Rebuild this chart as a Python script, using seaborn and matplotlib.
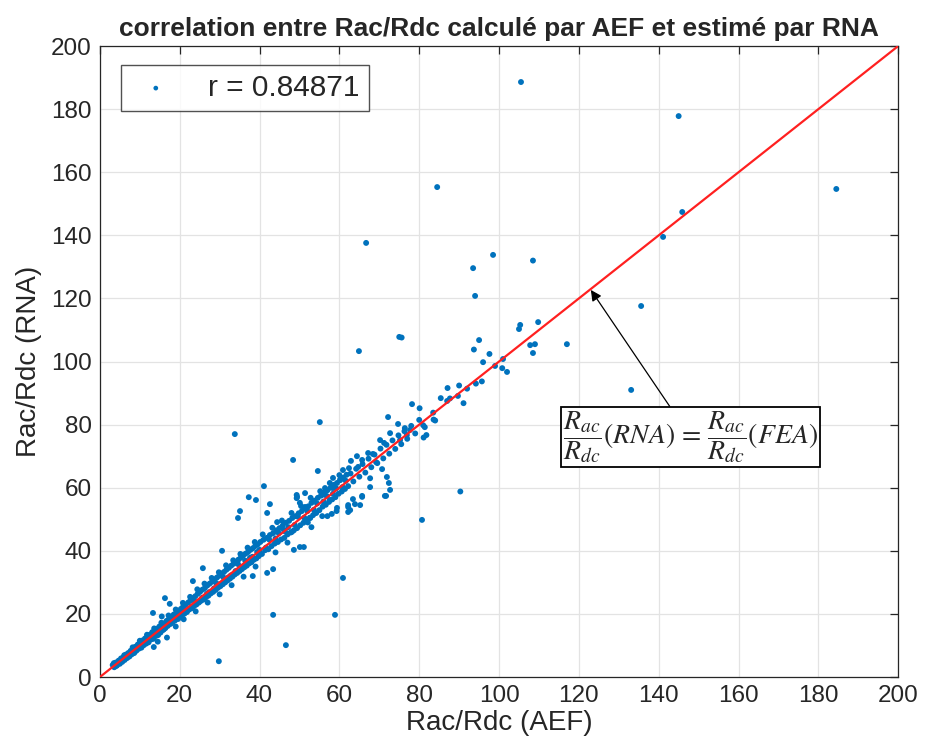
import numpy as np
import pandas as pd
import matplotlib
matplotlib.use("Agg")
import matplotlib.pyplot as plt
import seaborn as sns

# values: (Rac/Rdc AEF, Rac/Rdc RNA)
band_low = [
    (3.2, 3.8), (3.6, 3.1), (4.0, 4.6), (4.3, 3.7), (4.7, 5.2), (5.0, 4.2), (5.3, 5.9), (5.6, 4.8),
    (5.9, 6.3), (6.2, 5.4), (6.5, 7.1), (6.8, 6.0), (7.1, 7.6), (7.4, 6.5), (7.7, 8.3), (8.0, 7.2),
    (8.3, 8.9), (8.6, 7.6), (8.9, 9.6), (9.2, 8.4), (9.5, 10.3), (9.8, 9.0), (10.1, 10.8), (10.4, 9.3),
    (10.7, 11.6), (11.0, 10.1), (11.3, 12.2), (11.6, 10.6), (11.9, 12.9), (12.2, 11.0), (12.5, 13.4),
    (12.8, 11.9), (13.1, 14.2), (13.4, 12.1), (13.7, 14.6), (14.0, 13.0), (14.3, 15.3), (14.6, 13.3),
    (14.9, 16.0), (15.2, 14.1),
]
band_mid = [
    (15.5, 16.3), (15.8, 14.9), (16.1, 17.0), (16.4, 15.5), (16.7, 17.8), (17.0, 16.2), (17.3, 18.4),
    (17.6, 16.8), (17.9, 19.1), (18.2, 17.4), (18.5, 19.8), (18.8, 17.9), (19.1, 20.3), (19.4, 18.5),
    (19.7, 21.0), (20.0, 19.2), (20.3, 21.6), (20.6, 19.6), (20.9, 22.4), (21.2, 20.1), (21.5, 22.9),
    (21.8, 20.6), (22.1, 23.6), (22.4, 21.4), (22.7, 24.3), (23.0, 21.8), (23.3, 25.0), (23.6, 22.5),
    (23.9, 25.6), (24.2, 23.0), (24.5, 26.4), (24.8, 23.6), (25.1, 27.0), (25.4, 24.2), (25.7, 27.7),
    (26.0, 24.6), (26.3, 28.2), (26.6, 25.3), (26.9, 29.0), (27.2, 25.8), (27.5, 29.6), (27.8, 26.5),
    (28.1, 30.2), (28.4, 27.0), (28.7, 30.9), (29.0, 27.6), (29.3, 31.5), (29.6, 28.3), (29.9, 32.1),
    (30.2, 28.8), (30.5, 32.8), (30.8, 29.4), (31.1, 33.3), (31.4, 30.0), (31.7, 34.0), (32.0, 30.6),
    (32.3, 34.6), (32.6, 31.2), (32.9, 35.3), (33.2, 31.8), (33.5, 35.9), (33.8, 32.5), (34.1, 36.5),
    (34.4, 33.0), (34.7, 37.2), (35.0, 33.6), (35.3, 37.8), (35.6, 34.2), (35.9, 38.5), (36.2, 34.8),
    (36.5, 39.1), (36.8, 35.3), (37.1, 39.6), (37.4, 36.0), (37.7, 40.3), (38.0, 36.4), (38.3, 40.8),
    (38.6, 37.2), (38.9, 41.5), (39.2, 37.6), (39.5, 42.0), (39.8, 38.3),
]
band_extra = [
    (3.5, 4.4), (4.1, 3.5), (4.8, 4.9), (5.5, 5.1), (6.1, 6.9), (6.9, 6.3), (7.6, 7.0), (8.2, 9.4),
    (8.8, 8.1), (9.4, 9.2), (10.0, 11.5), (10.6, 10.0), (11.2, 11.0), (11.8, 13.4), (12.4, 12.0),
    (13.0, 12.6), (13.6, 15.4), (14.2, 13.6), (14.8, 14.2), (15.4, 17.2), (16.0, 15.1), (16.6, 16.4),
    (17.2, 19.5), (17.8, 17.0), (18.4, 18.2), (19.0, 21.4), (19.6, 18.4), (20.2, 20.6), (20.8, 23.5),
    (21.4, 20.9), (22.0, 21.2), (22.6, 25.4), (23.2, 22.4), (23.8, 23.9), (24.4, 27.8), (25.0, 24.0),
    (25.6, 25.1), (26.2, 29.6), (26.8, 26.4), (27.4, 26.9), (28.0, 31.4), (28.6, 28.1), (29.2, 29.7),
    (29.8, 33.2), (30.4, 29.6), (31.0, 31.5), (31.6, 35.4), (32.2, 31.6), (32.8, 32.2), (33.4, 37.0),
    (34.0, 33.6), (34.6, 35.8), (35.2, 39.0), (35.8, 35.0), (36.4, 36.9), (37.0, 41.0), (37.6, 37.8),
    (38.2, 38.1), (38.8, 42.8), (39.4, 39.6), (40.0, 40.3), (40.8, 45.2), (41.6, 41.0), (42.4, 43.6),
    (43.2, 47.3), (44.0, 43.9), (44.8, 45.6), (45.6, 49.6), (46.4, 46.1), (47.2, 47.5), (48.0, 52.0),
    (48.8, 48.2), (49.6, 50.8), (50.4, 54.2), (51.2, 50.5), (52.0, 52.6), (52.8, 56.8), (53.6, 53.0),
    (54.4, 55.0), (55.2, 58.9), (56.0, 55.6), (56.8, 57.4), (57.6, 61.5), (58.4, 58.1), (59.2, 59.8),
    (60.0, 64.0), (60.8, 60.2), (61.6, 62.2),
    (21.0, 18.3), (24.0, 20.8), (27.0, 23.6), (30.0, 26.2), (33.0, 29.1), (36.0, 31.8), (39.0, 35.0),
    (44.0, 39.5), (47.0, 42.6), (53.0, 47.5), (57.0, 51.0),
]
band_high = [
    (40.2, 42.8), (40.6, 39.0), (41.0, 43.5), (41.4, 40.2), (41.8, 44.1), (42.2, 40.5), (42.6, 45.0),
    (43.0, 41.5), (43.4, 45.6), (43.8, 42.3), (44.2, 46.5), (44.6, 42.8), (45.0, 47.2), (45.4, 43.6),
    (45.8, 48.0), (46.2, 44.1), (46.6, 48.9), (47.0, 45.2), (47.4, 49.5), (47.8, 45.8), (48.2, 50.4),
    (48.6, 46.5), (49.0, 51.0), (49.4, 47.2), (49.8, 51.9), (50.2, 48.1), (50.6, 52.6), (51.0, 48.9),
    (51.4, 53.5), (51.8, 49.8), (52.2, 54.1), (52.6, 50.5), (53.0, 55.2), (53.4, 51.3), (53.8, 55.9),
    (54.2, 52.0), (54.6, 56.8), (55.0, 52.9), (55.4, 57.5), (55.8, 54.0), (56.2, 58.4), (56.6, 54.6),
    (57.0, 59.2), (57.4, 55.5), (57.8, 60.0), (58.2, 56.3), (58.6, 60.9), (59.0, 57.0), (59.4, 61.5),
    (59.8, 58.1), (60.2, 62.6), (60.6, 58.8), (61.0, 63.2), (61.4, 59.6), (61.8, 64.1), (62.2, 60.5),
    (62.8, 64.5), (63.5, 62.0), (64.2, 66.0), (65.0, 63.5), (65.8, 67.5), (66.5, 64.8), (67.3, 69.2),
    (68.0, 66.5), (68.8, 70.5), (69.5, 67.8), (70.3, 72.4), (71.0, 69.3), (71.8, 73.6), (72.5, 70.8),
    (73.3, 75.0), (74.0, 72.3), (74.8, 76.6), (75.5, 73.8), (76.3, 77.9), (77.0, 75.5), (78.0, 79.6),
    (79.0, 77.2), (80.0, 81.5), (81.0, 79.8), (87.0, 87.5), (92.0, 91.4), (99.0, 98.6),
]
spread = [
    (13.3, 20.3), (16.3, 25.0), (15.5, 19.2), (17.5, 23.2), (13.5, 9.5), (16.8, 12.5), (19.0, 16.0),
    (14.5, 11.2), (23.3, 30.4), (25.8, 34.5), (30.6, 40.0), (38.3, 32.0), (41.9, 33.0), (43.4, 34.2),
    (35.1, 52.6), (34.6, 50.4), (37.3, 57.0), (39.1, 56.1), (41.1, 60.5), (42.6, 54.8), (41.9, 52.0),
    (48.6, 40.3), (50.1, 41.2), (51.1, 41.2), (52.1, 49.0), (44.4, 49.1), (46.1, 46.6), (48.1, 46.0),
    (49.3, 57.7), (51.4, 58.3), (48.4, 68.8), (54.6, 65.3), (33.8, 77.0), (55.1, 80.8), (64.9, 103.3),
    (75.0, 107.8), (67.7, 60.2), (71.4, 57.4), (72.7, 59.3), (72.4, 61.5), (70.7, 65.9), (65.7, 57.4),
    (63.9, 54.8), (62.2, 53.9), (62.2, 52.3), (59.3, 52.6), (58.1, 51.7), (67.7, 63.0), (55.7, 51.0),
    (52.7, 50.4), (49.3, 56.7), (72.2, 82.4), (74.7, 80.2), (76.4, 78.9), (72.7, 77.3), (70.2, 75.1),
    (71.2, 74.2), (67.2, 71.0), (68.4, 70.7), (64.4, 70.0), (62.9, 68.5), (65.7, 68.8), (64.7, 66.6),
    (62.4, 66.2), (60.9, 65.6), (58.4, 63.1), (60.2, 62.4), (69.2, 68.1), (75.2, 75.1), (76.9, 76.7),
    (77.7, 78.3), (71.9, 63.4), (71.7, 57.4), (65.7, 57.1), (63.4, 56.4), (62.2, 54.5), (58.4, 59.9),
    (56.4, 59.9), (55.6, 57.7), (57.6, 56.1), (59.4, 53.6), (62.7, 52.9), (65.2, 54.5), (53.9, 52.0),
    (51.4, 53.9), (50.1, 55.2), (49.4, 57.1),
]
outliers = [
    (105.5, 188.6), (145.0, 177.8), (184.5, 154.7), (145.9, 147.4), (141.1, 139.5), (135.6, 117.6),
    (133.1, 91.0), (117.0, 105.5), (84.5, 155.3), (66.7, 137.6), (93.5, 129.6), (98.5, 133.8),
    (108.5, 132.0), (94.0, 120.8), (109.8, 112.5), (105.3, 111.6), (105.0, 110.3), (95.0, 106.8),
    (93.7, 103.8), (97.6, 102.4), (96.0, 99.8), (101.0, 100.8), (100.8, 97.9), (102.0, 96.7),
    (107.8, 105.2), (109.0, 105.5), (108.5, 102.7), (94.2, 93.0), (95.7, 93.7), (90.0, 92.4),
    (87.1, 91.6), (85.4, 88.4), (87.7, 88.3), (89.7, 89.1), (91.1, 86.8), (78.2, 86.5), (80.1, 85.2),
    (83.5, 83.8), (83.6, 81.6), (84.0, 81.3), (81.4, 79.2), (81.8, 76.7), (81.1, 75.9), (75.6, 107.6),
    (90.3, 58.8), (80.7, 49.8), (60.9, 31.4), (58.9, 19.7), (46.6, 10.1), (43.4, 19.7), (29.8, 5.0),
]

points = band_low + band_mid + band_extra + band_high + spread + outliers
aef = [p[0] for p in points]
rna = [p[1] for p in points]
r_label = "r = 0.84871"
line_x = [0, 200]
line_y = [0, 200]

sns.set_style("white")
plt.rcParams["font.family"] = ["Liberation Sans", "DejaVu Sans"]
plt.rcParams["mathtext.fontset"] = "stix"

df = pd.DataFrame({"AEF": aef, "RNA": rna})

fig = plt.figure(figsize=(9.25, 7.55), dpi=100)
ax = fig.add_axes([0.108, 0.1033, 0.863, 0.8357])

sns.scatterplot(data=df, x="AEF", y="RNA", ax=ax, s=18, color="#0072BD",
                edgecolor="none", linewidth=0, label=r_label, zorder=3)
ax.plot(line_x, line_y, color="#FF2020", lw=1.6, zorder=4)

ax.set_xlim(0, 200)
ax.set_ylim(0, 200)
ax.set_xticks(np.arange(0, 201, 20))
ax.set_yticks(np.arange(0, 201, 20))
ax.grid(True, color="#E3E3E3", lw=0.9)
ax.set_axisbelow(True)
ax.tick_params(direction="in", length=6, width=0.9, colors="#262626", labelsize=17.5,
               top=True, right=True, pad=6)
for sp in ax.spines.values():
    sp.set_visible(True)
    sp.set_color("#262626")
    sp.set_linewidth(0.9)

ax.set_title("correlation entre Rac/Rdc calculé par AEF et estimé par RNA",
             fontsize=19, fontweight="bold", pad=7)
ax.set_xlabel("Rac/Rdc (AEF)", fontsize=20, color="#262626", labelpad=2)
ax.set_ylabel("Rac/Rdc (RNA)", fontsize=20, color="#262626", labelpad=6)

leg = ax.legend(loc="upper left", bbox_to_anchor=(0.027, 0.97), fontsize=21.5,
                frameon=True, fancybox=False, markerscale=0.8, handletextpad=0.9,
                borderpad=0.3, handlelength=1.7, borderaxespad=0)
leg.get_frame().set_edgecolor("#262626")
leg.get_frame().set_linewidth(1.0)

ax.annotate(r"$\dfrac{R_{ac}}{R_{dc}}(RNA)\,=\,\dfrac{R_{ac}}{R_{dc}}(FEA)$",
            xy=(123, 122.7), xytext=(148, 76), ha="center", va="center",
            fontsize=20, zorder=6,
            bbox=dict(boxstyle="square,pad=0.08", fc="white", ec="black", lw=1.3),
            arrowprops=dict(arrowstyle="-|>", color="black", lw=0.9, mutation_scale=16,
                            shrinkA=0, shrinkB=0))

fig.savefig("out.png", dpi=100)
